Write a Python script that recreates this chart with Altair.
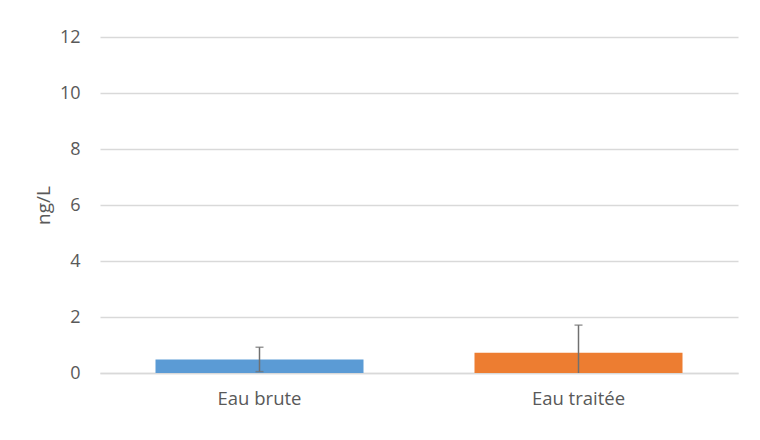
import altair as alt
import pandas as pd

categories = ["Eau brute", "Eau traitée"]
values = [0.48, 0.72]
err_low = [0.05, 0.0]
err_high = [0.92, 1.71]
colors = ["#5B9BD5", "#ED7D31"]
low_cap = [True, False]

df = pd.DataFrame({"cat": categories, "v": values, "lo": err_low, "hi": err_high,
                   "col": colors, "lowcap": low_cap})

font = "Open Sans"
x = alt.X("cat:N", sort=categories, title=None,
          scale=alt.Scale(paddingInner=0.35, paddingOuter=0.175),
          axis=alt.Axis(labelAngle=0, labelFontSize=18.5, labelColor="#595959", labelFont=font,
                        ticks=False, grid=False, domainColor="#d9d9d9", domainWidth=1.3,
                        labelPadding=16))
y = alt.Y("v:Q", title="ng/L",
          scale=alt.Scale(domain=[0, 12], nice=False),
          axis=alt.Axis(values=[0, 2, 4, 6, 8, 10, 12], labelFontSize=18, labelColor="#595959",
                        labelFont=font, titleFont=font, titleFontSize=19, titleColor="#595959",
                        titleFontWeight="normal", ticks=False, domain=False, gridColor="#d9d9d9",
                        gridWidth=1.3, labelPadding=20, titlePadding=6))

bars = alt.Chart(df).mark_bar(size=208).encode(x=x, y=y, color=alt.Color("col:N", scale=None))
rule = alt.Chart(df).mark_rule(color="#707070", strokeWidth=1.5).encode(
    x=alt.X("cat:N", sort=categories), y="lo:Q", y2="hi:Q")
capt = alt.Chart(df).mark_tick(color="#707070", size=8, thickness=1.5, orient="horizontal").encode(
    x=alt.X("cat:N", sort=categories), y="hi:Q")
capb = alt.Chart(df).transform_filter("datum.lowcap").mark_tick(
    color="#707070", size=8, thickness=1.5, orient="horizontal").encode(
    x=alt.X("cat:N", sort=categories), y="lo:Q")

chart = alt.layer(bars, rule, capt, capb).properties(
    width=638, height=336, autosize="none", background="white",
    padding={"left": 92, "top": 29, "right": 14, "bottom": 59}
).configure_view(stroke=None, strokeWidth=0)

chart.save("out.html", embed_options={"renderer": "svg", "actions": False})
